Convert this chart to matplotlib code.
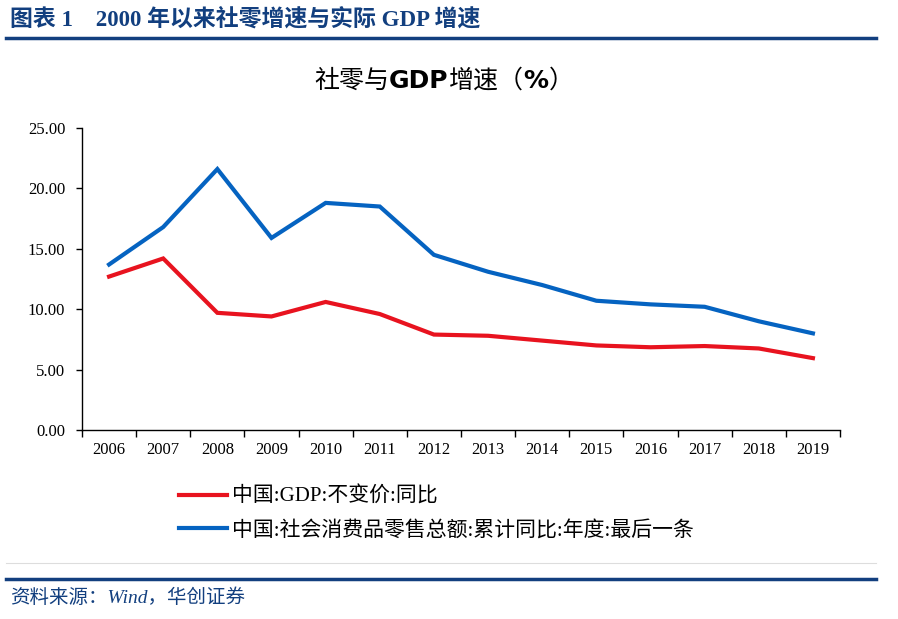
import matplotlib
matplotlib.use('Agg')
import matplotlib.pyplot as plt
from matplotlib.lines import Line2D

years = ['2006', '2007', '2008', '2009', '2010', '2011', '2012',
         '2013', '2014', '2015', '2016', '2017', '2018', '2019']
gdp = [12.7, 14.2, 9.7, 9.4, 10.6, 9.6, 7.9, 7.8, 7.4, 7.0, 6.85, 6.95, 6.75, 5.95]
retail = [13.7, 16.8, 21.6, 15.9, 18.8, 18.5, 14.5, 13.1, 12.0, 10.7, 10.4, 10.2, 9.0, 8.0]

gdp_label = '中国:GDP:不变价:同比'
retail_label = '中国:社会消费品零售总额:累计同比:年度:最后一条'
title_parts = [('社零与', 'normal'), ('GDP', 'bold'), ('增速（', 'normal'), ('%', 'bold'), ('）', 'normal')]

serif_cjk = ['Liberation Serif', 'Noto Sans CJK SC']
sans_cjk = ['DejaVu Sans', 'Noto Sans CJK SC']
navy = '#123F7F'
red = '#E8131F'
blue = '#0563C1'

fig = plt.figure(figsize=(8.98, 6.19), dpi=100)
ax = fig.add_axes([82/898, 1 - 430/619, (840 - 82)/898, (430 - 128)/619])

x = list(range(len(years)))
ax.plot(x, gdp, color=red, lw=3.0, solid_joinstyle='miter')
ax.plot(x, retail, color=blue, lw=3.0, solid_joinstyle='miter')

ax.set_xlim(-0.5, len(years) - 0.5)
ax.set_ylim(0, 25)
ax.set_yticks([0, 5, 10, 15, 20, 25])
ax.set_yticklabels(['%.2f' % v for v in [0, 5, 10, 15, 20, 25]], family='Liberation Serif', fontsize=12)
ax.set_xticks(x)
ax.set_xticklabels(years, family='Liberation Serif', fontsize=12)
ax.set_xticks([i - 0.5 for i in range(len(years) + 1)], minor=True)
ax.tick_params(axis='x', which='major', length=0, pad=9)
ax.tick_params(axis='x', which='minor', length=5, width=1, direction='out')
ax.tick_params(axis='y', length=4, width=1, direction='out', pad=8)
for s in ['top', 'right']:
    ax.spines[s].set_visible(False)
for s in ['left', 'bottom']:
    ax.spines[s].set_linewidth(1.0)

# legend
handles = [Line2D([], [], color=red, lw=3), Line2D([], [], color=blue, lw=3)]
fig.legend(handles, [gdp_label, retail_label], loc='upper left',
           bbox_to_anchor=(160/898, 1 - 468/619), frameon=False,
           handlelength=2.3, handletextpad=0.25, labelspacing=0.65,
           prop={'family': serif_cjk, 'size': 15})

# title: CJK regular, latin parts bold
t = fig.text(314/898, 1 - 93/619, title_parts[0][0], ha='left', va='bottom',
             family=sans_cjk, fontsize=18, fontweight=title_parts[0][1])
for s, w in title_parts[1:]:
    t = ax.annotate(s, xy=(1, 0), xycoords=t, ha='left', va='bottom',
                    family=sans_cjk, fontsize=18, fontweight=w)

# header and footer
fig.text(10/898, 1 - 19/619, '图表 1　2000 年以来社零增速与实际 GDP 增速', ha='left', va='center',
         family=serif_cjk, fontsize=16.5, fontweight='bold', color=navy)
fig.add_artist(Line2D([6/898, 876/898], [1 - 38/619, 1 - 38/619], color=navy, lw=2.5))
fig.add_artist(Line2D([6/898, 876/898], [1 - 563/619, 1 - 563/619], color='#DDDDDD', lw=0.8))
fig.add_artist(Line2D([6/898, 876/898], [1 - 579/619, 1 - 579/619], color=navy, lw=2.5))
fig.text(10/898, 1 - 598/619, '资料来源：Wind，华创证券', ha='left', va='center',
         family=serif_cjk, fontsize=14, style='italic', color=navy)

fig.savefig('out.png', dpi=100)
